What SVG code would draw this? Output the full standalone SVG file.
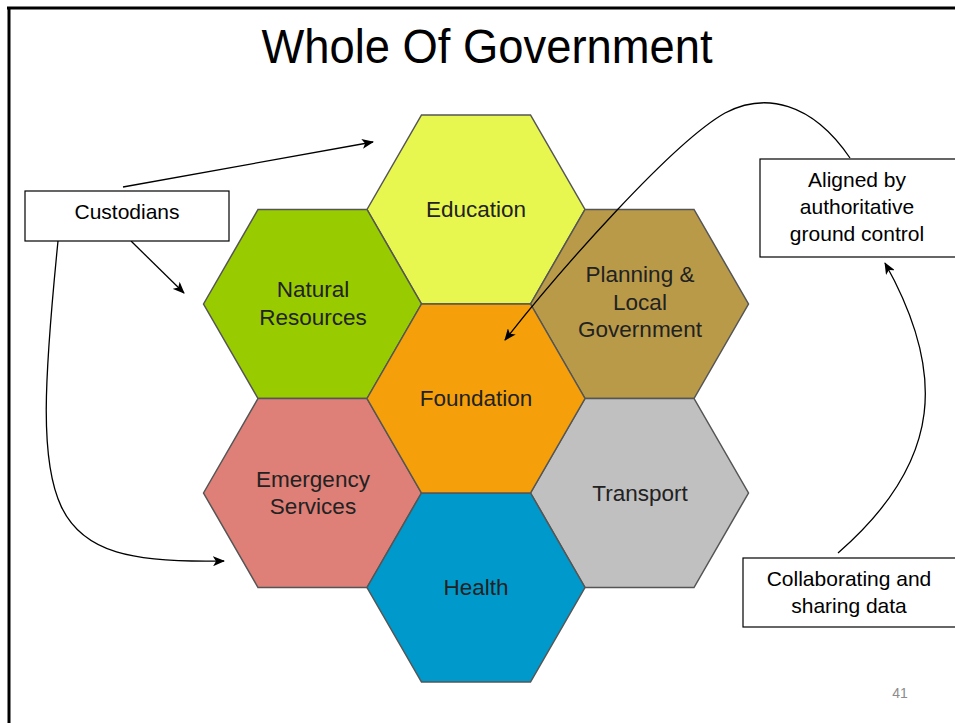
<svg xmlns="http://www.w3.org/2000/svg" width="955" height="723" viewBox="0 0 955 723">
<defs>
<marker id="ah" markerUnits="userSpaceOnUse" markerWidth="12" markerHeight="10" refX="11" refY="5" orient="auto">
<path d="M0,0 L12,5 L0,10 L3,5 Z" fill="#000"/>
</marker>
<style>
.hex{stroke:#555;stroke-width:1.5}
.ht{font-family:"Liberation Sans",Arial,sans-serif;font-size:22.5px;fill:#222;text-anchor:middle}
.box{fill:#fff;stroke:#000;stroke-width:1.2}
.bt{font-family:"Liberation Sans",Arial,sans-serif;font-size:21px;fill:#000;text-anchor:middle}
.con{fill:none;stroke:#000;stroke-width:1.3;marker-end:url(#ah)}
</style>
</defs>
<rect width="955" height="723" fill="#fff"/>
<g id="frame">
<line x1="9" y1="7" x2="9" y2="723" stroke="#000" stroke-width="3"/>
<line x1="7" y1="8" x2="955" y2="8" stroke="#000" stroke-width="3"/>
</g>
<g id="title">
<text x="487" y="63" font-family="Liberation Sans,Arial,sans-serif" font-size="48" text-anchor="middle" textLength="451" lengthAdjust="spacingAndGlyphs" fill="#000">Whole Of Government</text>
</g>
<g id="hex-education">
<polygon class="hex" fill="#e8f74f" points="367,209.5 421.5,115 530.5,115 585,209.5 530.5,304 421.5,304"/>
<text class="ht" x="476" y="217">Education</text>
</g>
<g id="hex-natural">
<polygon class="hex" fill="#99cc00" points="203.5,304 258,209.5 367,209.5 421.5,304 367,398.5 258,398.5"/>
<text class="ht" x="313" y="297">Natural</text>
<text class="ht" x="313" y="324.5">Resources</text>
</g>
<g id="hex-planning">
<polygon class="hex" fill="#b99a49" points="530.5,304 585,209.5 694,209.5 748.5,304 694,398.5 585,398.5"/>
<text class="ht" x="640" y="282">Planning &amp;</text>
<text class="ht" x="640" y="309.5">Local</text>
<text class="ht" x="640" y="337">Government</text>
</g>
<g id="hex-emergency">
<polygon class="hex" fill="#de7f78" points="203.5,493 258,398.5 367,398.5 421.5,493 367,587.5 258,587.5"/>
<text class="ht" x="313" y="487">Emergency</text>
<text class="ht" x="313" y="514">Services</text>
</g>
<g id="hex-transport">
<polygon class="hex" fill="#c0c0c0" points="530.5,493 585,398.5 694,398.5 748.5,493 694,587.5 585,587.5"/>
<text class="ht" x="640" y="501">Transport</text>
</g>
<g id="hex-health">
<polygon class="hex" fill="#0099cc" points="367,587.5 421.5,493 530.5,493 585,587.5 530.5,682 421.5,682"/>
<text class="ht" x="476" y="595">Health</text>
</g>
<g id="hex-foundation">
<polygon class="hex" fill="#f5a00a" points="367,398.5 421.5,304 530.5,304 585,398.5 530.5,493 421.5,493"/>
<text class="ht" x="476" y="406">Foundation</text>
</g>
<g id="connectors">
<path class="con" d="M123,187 L373,142"/>
<path class="con" d="M131,241 L184,293"/>
<path class="con" d="M58,241 C30,520 40,565 224,561"/>
<path class="con" d="M850,158 C812,102 765,92 725,113 C672,143 560,270 505,340"/>
<path class="con" d="M838,553 C945,460 945,370 885,263"/>
</g>
<g id="box-custodians">
<rect class="box" x="25" y="191" width="204" height="50"/>
<text class="bt" x="127" y="219">Custodians</text>
</g>
<g id="box-aligned">
<rect class="box" x="760" y="159" width="200" height="98"/>
<text class="bt" x="857" y="187">Aligned by</text>
<text class="bt" x="857" y="214">authoritative</text>
<text class="bt" x="857" y="241">ground control</text>
</g>
<g id="box-collab">
<rect class="box" x="743" y="558" width="217" height="69"/>
<text class="bt" x="849" y="586">Collaborating and</text>
<text class="bt" x="849" y="613">sharing data</text>
</g>
<g id="page">
<text x="900" y="698" font-family="Liberation Sans,Arial,sans-serif" font-size="14" fill="#8c8c8c" text-anchor="middle">41</text>
</g>
</svg>
